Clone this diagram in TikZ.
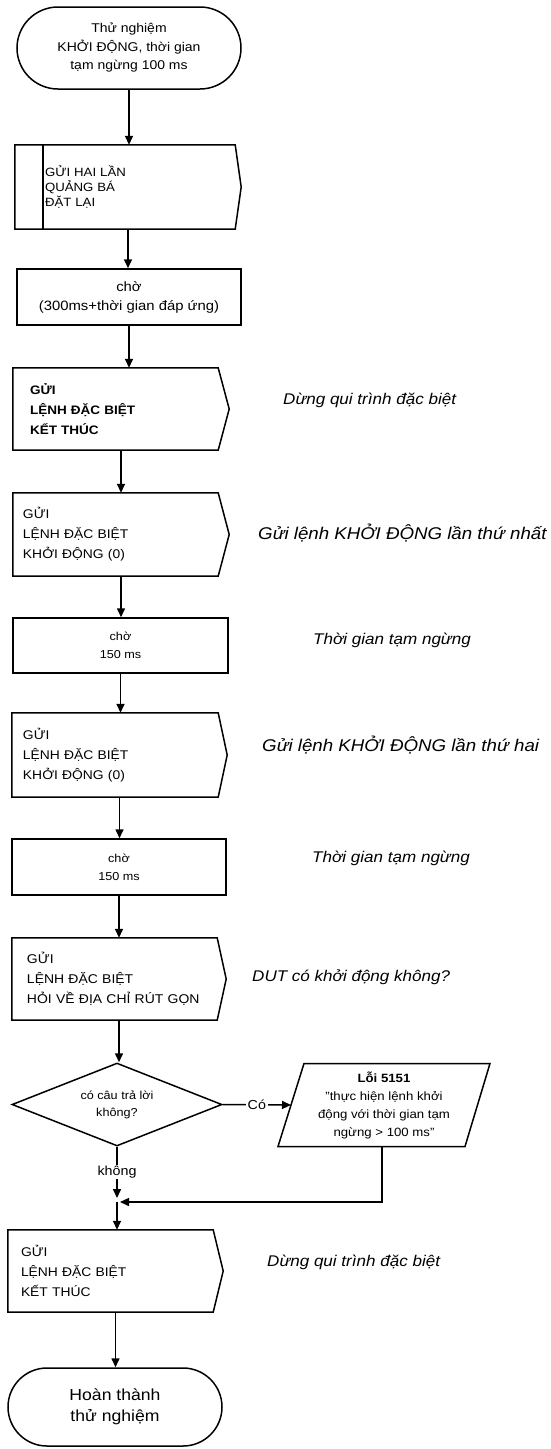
\documentclass[tikz,border=0pt]{standalone}
\usepackage{fontspec}
\setmainfont{Liberation Sans}[FakeStretch=1.1]
\usetikzlibrary{shapes.geometric,shapes.misc,arrows.meta}
\tikzset{
  ln/.style={line width=1.5pt},
  arr/.style={ln,-{Triangle[length=9pt,width=8pt]}},
  term/.style={rounded rectangle,draw,ln,inner sep=0pt,align=center},
  sendbox/.style={inner ysep=0pt,inner xsep=12pt,align=left,font=\fontsize{12.6}{20}\selectfont},
  waitbox/.style={draw,ln,inner sep=0pt,align=center},
  note/.style={anchor=west,inner sep=0pt,font=\fontsize{15.5}{18}\selectfont\itshape},
}
\begin{document}
\begin{tikzpicture}[x=1pt,y=-1pt]
\useasboundingbox (0,0) rectangle (550,1449);
% start
\node[term,minimum width=224pt,minimum height=82pt,font=\fontsize{12.7}{18.5}\selectfont] (start) at (129,48) {Thử nghiệm\\KHỞI ĐỘNG, thời gian\\tạm ngừng 100 ms};
% b2
\node[sendbox,font=\fontsize{12}{15}\selectfont,inner xsep=30pt,text width=166pt,minimum height=84pt] (b2) at (128,187) {GỬI HAI LẦN\\QUẢNG BÁ\\ĐẶT LẠI};
\draw[ln] (b2.north west) -- ([shift={(-6,0)}]b2.north east) -- (b2.east) -- ([shift={(-6,0)}]b2.south east) -- (b2.south west) -- cycle;
\draw[ln] ([shift={(28,0)}]b2.north west) -- ([shift={(28,0)}]b2.south west);
% b3
\node[waitbox,minimum width=224pt,minimum height=56pt,font=\fontsize{13.5}{19}\selectfont] (b3) at (129,297) {chờ\\(300ms+thời gian đáp ứng)};
% b4
\node[sendbox,font=\fontsize{12.3}{20}\selectfont\bfseries,inner xsep=17pt,text width=182pt,minimum height=82pt] (b4) at (121,409) {GỬI\\LỆNH ĐẶC BIỆT\\KẾT THÚC};
% b5
\node[sendbox,inner xsep=10pt,text width=196pt,minimum height=83pt] (b5) at (121,534.5) {GỬI\\LỆNH ĐẶC BIỆT\\KHỞI ĐỘNG (0)};
% b6
\node[waitbox,minimum width=215pt,minimum height=55pt,font=\fontsize{11.5}{18}\selectfont] (b6) at (120.5,645.5) {chờ\\150 ms};
% b7
\node[sendbox,inner xsep=11pt,text width=193pt,minimum height=84pt] (b7) at (119.5,755) {GỬI\\LỆNH ĐẶC BIỆT\\KHỞI ĐỘNG (0)};
% b8
\node[waitbox,minimum width=214pt,minimum height=56pt,font=\fontsize{11.5}{18}\selectfont] (b8) at (119,867) {chờ\\150 ms};
% b9
\node[sendbox,font=\fontsize{12.7}{20}\selectfont,inner xsep=15pt,text width=184pt,minimum height=82pt] (b9) at (119,979) {GỬI\\LỆNH ĐẶC BIỆT\\HỎI VỀ ĐỊA CHỈ RÚT GỌN};
% diamond
\node[diamond,aspect=2.5,draw,ln,minimum width=210pt,minimum height=83pt,inner sep=0pt,align=center,font=\fontsize{11.5}{17}\selectfont] (dia) at (117,1104.5) {có câu trả lời\\không?};
% error parallelogram
\node[align=center,inner sep=0pt,font=\fontsize{12}{18}\selectfont] (err) at (384,1105) {\textbf{Lỗi 5151}\\"thực hiện lệnh khởi\\động với thời gian tạm\\ngừng > 100 ms"};
\draw[ln] ([shift={(-80,-41.5)}]err.center) -- ([shift={(106,-41.5)}]err.center) -- ([shift={(81,41.5)}]err.center) -- ([shift={(-106,41.5)}]err.center) -- cycle;
\coordinate (errL) at ([shift={(-93,0)}]err.center);
\coordinate (errB) at ([shift={(-2,41.5)}]err.center);
% b10
\node[sendbox,inner xsep=13pt,text width=189pt,minimum height=82pt] (b10) at (115.5,1271) {GỬI\\LỆNH ĐẶC BIỆT\\KẾT THÚC};
% end
\node[term,minimum width=214pt,minimum height=78pt,font=\fontsize{16}{21}\selectfont] (end) at (115,1407) {Hoàn thành\\thử nghiệm};
% send outlines
\foreach \n/\d in {b4/11,b5/11,b7/9,b9/9,b10/10}{
  \draw[ln] (\n.north west) -- ([shift={(-\d,0)}]\n.north east) -- (\n.east) -- ([shift={(-\d,0)}]\n.south east) -- (\n.south west) -- cycle;
}
% annotations
\node[note] (a1) at (283,400) {Dừng qui trình đặc biệt};
\node[note,font=\fontsize{17}{19}\selectfont\itshape] (a2) at (258,533) {Gửi lệnh KHỞI ĐỘNG lần thứ nhất};
\node[note] (a3) at (313,640) {Thời gian tạm ngừng};
\node[note,font=\fontsize{17}{19}\selectfont\itshape] (a4) at (262,745) {Gửi lệnh KHỞI ĐỘNG lần thứ hai};
\node[note] (a5) at (312,858) {Thời gian tạm ngừng};
\node[note] (a6) at (252,977) {DUT có khởi động không?};
\node[note] (a7) at (267,1262) {Dừng qui trình đặc biệt};
% connectors
\draw[arr] (start.south) -- (start.south |- b2.north);
\draw[arr] (b2.south) -- (b2.south |- b3.north);
\draw[arr] (b3.south) -- (b3.south |- b4.north);
\draw[arr] (b4.south) -- (b4.south |- b5.north);
\draw[arr] (b5.south) -- (b5.south |- b6.north);
\draw[arr] (b6.south) -- (b6.south |- b7.north);
\draw[arr] (b7.south) -- (b7.south |- b8.north);
\draw[arr] (b8.south) -- (b8.south |- b9.north);
\draw[arr] (b9.south) -- (b9.south |- dia.north);
\draw[arr] (dia.east) -- node[fill=white,inner sep=2pt,font=\fontsize{13}{15}\selectfont] (yes) {Có} (errL);
\node[inner sep=1pt,font=\fontsize{13}{15}\selectfont] (no) at (117,1172) {không};
\coordinate (join) at (117,1202);
\draw[ln] (dia.south) -- (no.north);
\draw[arr,shorten >=4pt] (no.south) -- (join);
\draw[arr,shorten >=3pt] (errB) |- (join);
\draw[arr] (join) -- (join |- b10.north);
\draw[arr] (b10.south) -- (b10.south |- end.north);
\end{tikzpicture}
\end{document}
